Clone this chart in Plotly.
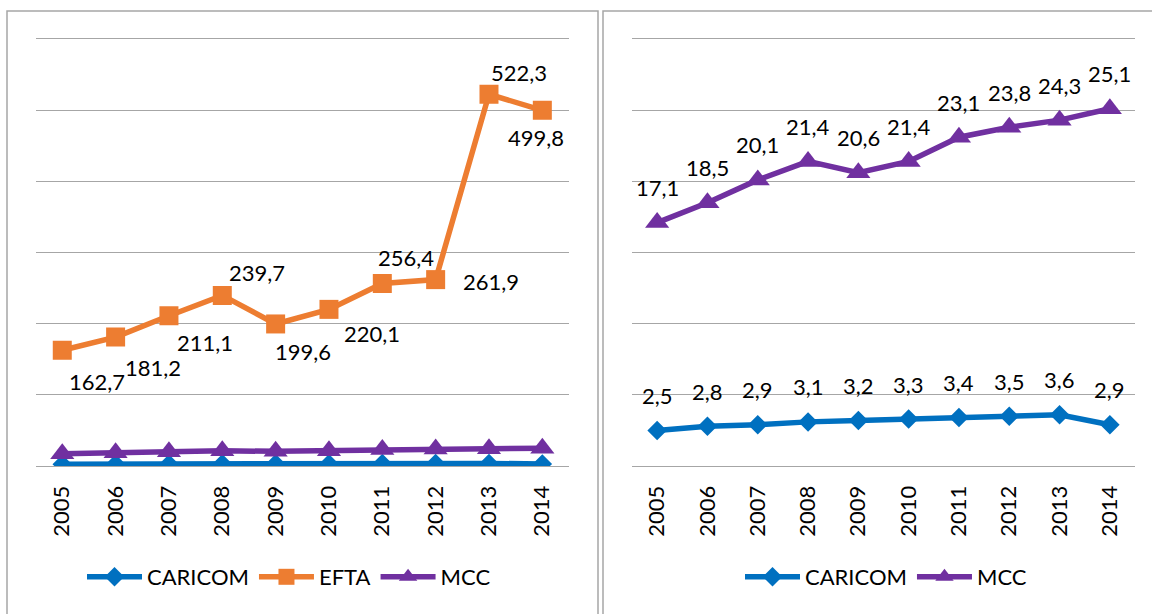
import plotly.graph_objects as go

# Data
years = ['2005', '2006', '2007', '2008', '2009', '2010', '2011', '2012', '2013', '2014']
caricom = [2.5, 2.8, 2.9, 3.1, 3.2, 3.3, 3.4, 3.5, 3.6, 2.9]
efta = [162.7, 181.2, 211.1, 239.7, 199.6, 220.1, 256.4, 261.9, 522.3, 499.8]
mcc = [17.1, 18.5, 20.1, 21.4, 20.6, 21.4, 23.1, 23.8, 24.3, 25.1]

# where the EFTA value labels sit relative to their points (px)
efta_dx = [35, 37, 36, 35, 27, 43, 24, 55, 30, -6]
efta_dy = [-31, -30, -27, 23, -28, -24, 26, -2, 22, -27]

BLUE = '#0070C0'
ORANGE = '#ED7D31'
PURPLE = '#7030A0'
GRID = '#A6A6A6'
FONT = 'Lato'

W, H = 1152, 614


def fmt(v):
    return f"{v:.1f}".replace('.', ',')


def line(x, y, name, color, symbol, size, xa, ya, legend):
    return go.Scatter(
        x=x, y=y, name=name, mode='lines+markers',
        line=dict(color=color, width=5.5),
        marker=dict(symbol=symbol, size=size, color=color),
        xaxis=xa, yaxis=ya, legend=legend, hoverinfo='x+y'
    )


fig = go.Figure()

# left chart: all three groups
fig.add_trace(line(years, caricom, 'CARICOM', BLUE, 'diamond', 15, 'x', 'y', 'legend'))
fig.add_trace(line(years, efta, 'EFTA', ORANGE, 'square', 19, 'x', 'y', 'legend'))
fig.add_trace(line(years, mcc, 'MCC', PURPLE, 'triangle-up', 21, 'x', 'y', 'legend'))

# right chart: without EFTA
fig.add_trace(line(years, caricom, 'CARICOM', BLUE, 'diamond', 15, 'x2', 'y2', 'legend2'))
fig.add_trace(line(years, mcc, 'MCC', PURPLE, 'triangle-up', 21, 'x2', 'y2', 'legend2'))

# value labels (category index as x, the axes place them)
label_font = dict(family=FONT, size=22, color='black')
annotations = []
for i, (v, dx, dy) in enumerate(zip(efta, efta_dx, efta_dy)):
    annotations.append(dict(x=i, y=v, xref='x', yref='y', text=fmt(v), showarrow=False,
                            xshift=dx, yshift=dy, font=label_font))
for series in (caricom, mcc):
    for i, v in enumerate(series):
        annotations.append(dict(x=i, y=v, xref='x2', yref='y2', text=fmt(v), showarrow=False,
                                yshift=35, font=label_font))

xaxis_style = dict(type='category', range=[-0.5, 9.5], tickangle=-90, showgrid=False,
                   showline=True, linecolor=GRID, linewidth=1, ticks='', ticklabelstandoff=10,
                   tickfont=dict(family=FONT, size=22, color='black'), fixedrange=True)
yaxis_style = dict(showgrid=True, gridcolor=GRID, gridwidth=1, zeroline=False,
                   showticklabels=False, ticks='', fixedrange=True)

# plot area runs from y=466 (zero) up to the top gridline at y=39,
# padded by 3% of a step so plotly keeps that top gridline
step_px = (466 - 39) / 6
ydom = [1 - 466 / H, 1 - (39 - 0.03 * step_px) / H]

legend_style = dict(orientation='h', y=1 - 577 / H, yanchor='middle', xanchor='center',
                    itemwidth=55, font=dict(family=FONT, size=22, color='black'),
                    bgcolor='rgba(0,0,0,0)')

fig.update_layout(
    width=W, height=H,
    margin=dict(l=0, r=0, t=0, b=0),
    paper_bgcolor='white', plot_bgcolor='white',
    font=dict(family=FONT, size=22, color='black'),
    xaxis=dict(domain=[35.6 / W, 569 / W], anchor='y', **xaxis_style),
    yaxis=dict(domain=ydom, anchor='x', range=[0, 603], dtick=100, **yaxis_style),
    xaxis2=dict(domain=[632 / W, 1135 / W], anchor='y2', **xaxis_style),
    yaxis2=dict(domain=ydom, anchor='x2', range=[0, 30.15], dtick=5, **yaxis_style),
    legend=dict(x=289 / W, **legend_style),
    legend2=dict(x=886 / W, **legend_style),
    annotations=annotations,
    shapes=[
        dict(type='rect', xref='paper', yref='paper', x0=7 / W, x1=598 / W, y0=-0.05, y1=1 - 11 / H,
             line=dict(color=GRID, width=1.5), layer='below'),
        dict(type='rect', xref='paper', yref='paper', x0=603 / W, x1=1.05, y0=-0.05, y1=1 - 11 / H,
             line=dict(color=GRID, width=1.5), layer='below'),
    ],
    showlegend=True,
)

fig.write_html("out.html", config={'displayModeBar': False},
               post_script="document.body.style.margin='0';")
